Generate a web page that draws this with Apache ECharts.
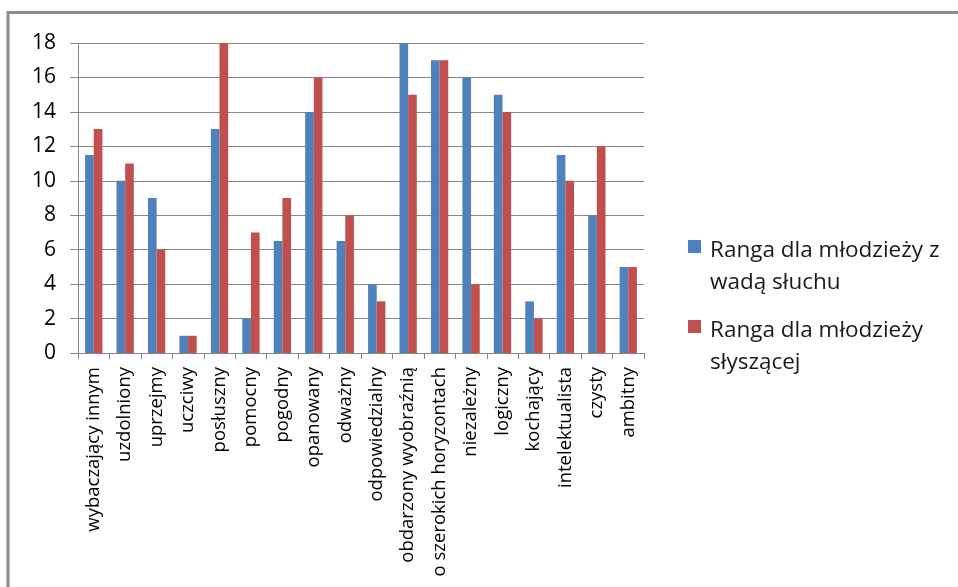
<!DOCTYPE html>
<html><head><meta charset="utf-8">
<script src="https://cdn.jsdelivr.net/npm/echarts@6/dist/echarts.min.js"></script>
<style>html,body{margin:0;padding:0;background:#fff}#c{width:958px;height:587px}</style>
</head><body><div id="c"></div>
<script>
const categories = ["wybaczający innym","uzdolniony","uprzejmy","uczciwy","posłuszny","pomocny","pogodny","opanowany","odważny","odpowiedzialny","obdarzony wyobraźnią","o szerokich horyzontach","niezależny","logiczny","kochający","intelektualista","czysty","ambitny"];
const deafValues = [11.5,10,9,1,13,2,6.5,14,6.5,4,18,17,16,15,3,11.5,8,5];
const hearingValues = [13,11,6,1,18,7,9,16,8,3,15,17,4,14,2,10,12,5];
const seriesNames = ["Ranga dla młodzieży z\nwadą słuchu","Ranga dla młodzieży\nsłyszącej"];
const seriesColors = ['#4F81BD','#C0504D'];
const yTicks = {min:0,max:18,interval:2};

const chart = echarts.init(document.getElementById('c'));
const font = '"Open Sans", sans-serif';
chart.setOption({
  animation:false,
  backgroundColor:'#fff',
  graphic:[
    {type:'polyline',shape:{points:[[8,600],[8,12.5],[970,12.5]]},style:{stroke:'#8c8c8c',lineWidth:3,fill:null}},
    {type:'rect',shape:{x:688,y:240,width:13,height:13},style:{fill:seriesColors[0]}},
    {type:'rect',shape:{x:688,y:320,width:13,height:13},style:{fill:seriesColors[1]}}
  ],
  grid:{left:78,right:314,top:43,bottom:234,containLabel:false},
  legend:{orient:'vertical',left:686,top:230,itemWidth:14,itemHeight:14,itemGap:16,icon:'rect',
    itemStyle:{color:'rgba(0,0,0,0)',borderWidth:0},
    textStyle:{fontFamily:font,fontSize:22.5,color:'#1a1a1a',lineHeight:32},
    data:seriesNames},
  xAxis:{type:'category',data:categories,
    axisLine:{lineStyle:{color:'#868686'}},
    axisTick:{show:true,length:6,lineStyle:{color:'#868686'},alignWithLabel:false},
    axisLabel:{rotate:90,interval:0,fontFamily:font,fontSize:18.5,color:'#000',margin:14}},
  yAxis:{type:'value',min:yTicks.min,max:yTicks.max,interval:yTicks.interval,
    axisLine:{show:true,lineStyle:{color:'#868686'}},
    axisTick:{show:true,inside:false,length:8,lineStyle:{color:'#868686'}},
    splitLine:{lineStyle:{color:'#868686'}},
    axisLabel:{fontFamily:font,fontSize:21,color:'#000',margin:22}},
  series:[
    {name:seriesNames[0],type:'bar',data:deafValues,itemStyle:{color:seriesColors[0]},barGap:'0%',barCategoryGap:'45%'},
    {name:seriesNames[1],type:'bar',data:hearingValues,itemStyle:{color:seriesColors[1]},barGap:'0%',barCategoryGap:'45%'}
  ]
});
</script></body></html>
